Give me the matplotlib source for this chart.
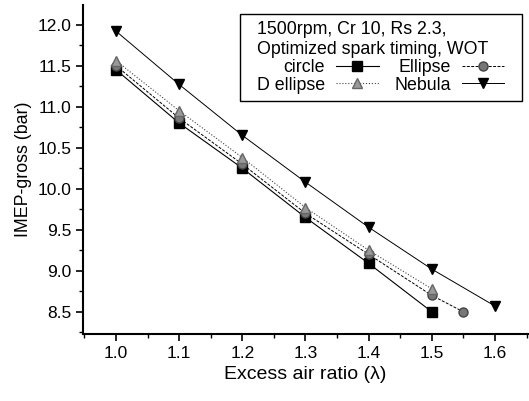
import matplotlib.pyplot as plt
from matplotlib.patches import Rectangle
from matplotlib.ticker import MultipleLocator

plt.rcParams['font.family'] = ['Liberation Sans', 'DejaVu Sans']

# Data
lam_circle = [1.0, 1.1, 1.2, 1.3, 1.4, 1.5]
imep_circle = [11.45, 10.80, 10.25, 9.65, 9.09, 8.50]

lam_ellipse = [1.0, 1.1, 1.2, 1.3, 1.4, 1.5, 1.55]
imep_ellipse = [11.50, 10.86, 10.30, 9.70, 9.20, 8.70, 8.50]

lam_dellipse = [1.0, 1.1, 1.2, 1.3, 1.4, 1.5]
imep_dellipse = [11.56, 10.95, 10.38, 9.77, 9.25, 8.78]

lam_nebula = [1.0, 1.1, 1.2, 1.3, 1.4, 1.5, 1.6]
imep_nebula = [11.92, 11.27, 10.65, 10.08, 9.53, 9.02, 8.57]

fig = plt.figure(figsize=(5.29, 4.01), dpi=100)
ax = fig.add_axes([0.157, 0.167, 0.841, 0.821])

h_circle, = ax.plot(lam_circle, imep_circle, color='black', linestyle='-', linewidth=0.8,
                    marker='s', markersize=6.5, markerfacecolor='black', label='circle')
h_ellipse, = ax.plot(lam_ellipse, imep_ellipse, color='black', linestyle='--', linewidth=0.7,
                     dashes=(3, 1.5), marker='o', markersize=6.5, markerfacecolor='#777777',
                     markeredgecolor='#444444', label='Ellipse')
h_dellipse, = ax.plot(lam_dellipse, imep_dellipse, color='#444444', linestyle=':', linewidth=0.8,
                      marker='^', markersize=7.5, markerfacecolor='#999999',
                      markeredgecolor='#666666', label='D ellipse')
h_nebula, = ax.plot(lam_nebula, imep_nebula, color='black', linestyle='-', linewidth=0.7,
                    marker='v', markersize=7.5, markerfacecolor='black', label='Nebula')

ax.set_xlim(0.948, 1.652)
ax.set_ylim(8.23, 12.24)
ax.xaxis.set_major_locator(MultipleLocator(0.1))
ax.xaxis.set_minor_locator(MultipleLocator(0.05))
ax.yaxis.set_major_locator(MultipleLocator(0.5))
ax.yaxis.set_minor_locator(MultipleLocator(0.25))
ax.tick_params(which='major', direction='out', length=5, width=1.2, labelsize=12.5)
ax.tick_params(which='minor', direction='out', length=3, width=1.0)

ax.spines['top'].set_visible(False)
ax.spines['right'].set_visible(False)
ax.spines['left'].set_linewidth(1.5)
ax.spines['bottom'].set_linewidth(1.5)

ax.set_xlabel('Excess air ratio (\u03bb)', fontsize=14)
ax.set_ylabel('IMEP-gross (bar)', fontsize=12.8)

leg = ax.legend([h_circle, h_dellipse, h_ellipse, h_nebula],
                ['circle', 'D ellipse', 'Ellipse', 'Nebula'],
                ncol=2, loc='upper right', bbox_to_anchor=(0.979, 0.993),
                title='1500rpm, Cr 10, Rs 2.3,\nOptimized spark timing, WOT',
                fontsize=12.8, title_fontsize=12.8, frameon=False,
                handlelength=2.4, handletextpad=0.6,
                columnspacing=0.9, labelspacing=0.05, borderpad=0.3,
                markerfirst=False)
leg._legend_box.align = 'left'

# box around the legend, wider at the sides like the original
fig.canvas.draw()
bb = leg.get_window_extent()
pad_x, pad_y = 12, 2
frame = Rectangle((bb.x0 - pad_x, bb.y0 - pad_y), bb.width + 2 * pad_x, bb.height + 2 * pad_y,
                  transform=None, fill=False, edgecolor='black', linewidth=1.0)
fig.add_artist(frame)

fig.savefig('out.png', dpi=100)
